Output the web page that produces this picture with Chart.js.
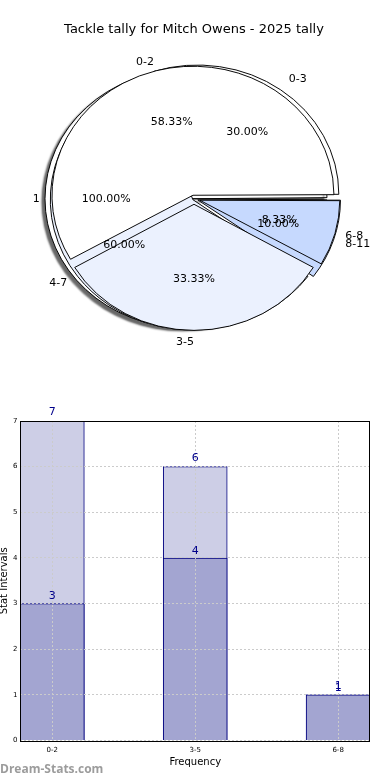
<!DOCTYPE html>
<html>
<head>
<meta charset="utf-8">
<script src="https://cdn.jsdelivr.net/npm/chart.js@4.4.1/dist/chart.umd.min.js"></script>
<style>
  html, body { margin: 0; padding: 0; background: #fff; }
  #wrap { position: relative; width: 390px; height: 780px; overflow: hidden; }
  #wrap canvas { position: absolute; left: 0; }
  .pie { top: 0; }
  #bars { top: 400px; }
</style>
</head>
<body>
<div id="wrap">
  <canvas id="pie3" class="pie" width="390" height="380"></canvas>
  <canvas id="pie2" class="pie" width="390" height="380"></canvas>
  <canvas id="pie1" class="pie" width="390" height="380"></canvas>
  <canvas id="bars" width="390" height="380"></canvas>
</div>
<script>
const TITLE = 'Tackle tally for Mitch Owens - 2025 tally';
const FONT = '"DejaVu Sans", sans-serif';

// top pie: three pies drawn over each other
const pie1Labels = ['0-2', '3-5', '6-8'];
const pie1Values = [7, 4, 1];
const pie2Labels = ['0-3', '4-7', '8-11'];
const pie2Values = [3, 6, 1];
const pie3Labels = ['1'];
const pie3Values = [1];

// bottom bars
const barLabels = ['0-2', '3-5', '6-8'];
const barBack = [7, 6, 1];
const barFront = [3, 4, 1];
const yTicks = [0, 1, 2, 3, 4, 5, 6, 7];

const pieColors = ['#ffffff', '#ebf1fe', '#c6d9fe'];
const SQUASH = 0.915;
const pies = [];

// pies are a bit flatter than round in the picture
const squash = {
  id: 'squash',
  beforeDatasetsDraw(chart) {
    const ctx = chart.ctx, a = chart.chartArea;
    const cx = (a.left + a.right) / 2, cy = (a.top + a.bottom) / 2;
    ctx.save();
    ctx.translate(cx, cy);
    ctx.scale(1, SQUASH);
    ctx.translate(-cx, -cy);
    if (chart.canvas.id === 'pie3') {
      ctx.shadowColor = 'rgba(0,0,0,0.6)';
      ctx.shadowOffsetX = -3;
      ctx.shadowOffsetY = 3;
      ctx.shadowBlur = 2;
    }
  },
  afterDatasetsDraw(chart) {
    chart.ctx.restore();
  }
};

// all slice texts go on the top canvas so no wedge hides them
const pieText = {
  id: 'pieText',
  afterDraw(chart) {
    const ctx = chart.ctx;
    const list = pies.includes(chart) ? pies : pies.concat(chart);
    ctx.save();
    ctx.font = '11px ' + FONT;
    ctx.fillStyle = '#000';
    ctx.textBaseline = 'middle';
    list.forEach(p => {
      const meta = p.getDatasetMeta(0);
      const vals = p.data.datasets[0].data;
      const total = vals.reduce((s, v) => s + v, 0);
      meta.data.forEach((arc, i) => {
        const half = (arc.startAngle + arc.endAngle) / 2;
        const off = (arc.options.offset || 0) / 4;
        const r = arc.outerRadius;
        const at = d => [arc.x + Math.cos(half) * (off + r * d),
                         arc.y + Math.sin(half) * (off + r * d) * SQUASH];
        let [x, y] = at(1.1);
        ctx.textAlign = Math.cos(half) > 1e-9 ? 'left' : 'right';
        ctx.fillText(p.data.labels[i], x, y);
        [x, y] = at(0.6);
        ctx.textAlign = 'center';
        ctx.fillText((vals[i] / total * 100).toFixed(2) + '%', x, y);
      });
    });
    ctx.restore();
  }
};

function makePie(id, labels, values, offsets, radius, titleColor, extra) {
  const chart = new Chart(document.getElementById(id), {
    type: 'pie',
    data: {
      // chart.js goes clockwise, the picture goes counter-clockwise from 3 o'clock
      labels: labels.slice().reverse(),
      datasets: [{
        data: values.slice().reverse(),
        backgroundColor: labels.map((l, i) => pieColors[i % 3]).reverse(),
        borderColor: '#000',
        borderWidth: 1,
        offset: offsets.slice().reverse(),
        radius: radius,
        rotation: 90,
        clip: false
      }]
    },
    options: {
      responsive: false,
      animation: false,
      events: [],
      layout: { padding: { right: 2, bottom: 20 } },
      plugins: {
        legend: { display: false },
        tooltip: { enabled: false },
        title: {
          display: true,
          text: TITLE,
          color: titleColor,
          font: { family: FONT, size: 13, weight: 'normal' },
          padding: { top: 22, bottom: 0 }
        }
      }
    },
    plugins: [squash].concat(extra || [])
  });
  pies.push(chart);
  return chart;
}

makePie('pie3', pie3Labels, pie3Values, [32], 133, '#000');
makePie('pie2', pie2Labels, pie2Values, [24, 6, 16], 141, 'rgba(0,0,0,0)');
makePie('pie1', pie1Labels, pie1Values, [16, 24, 24], 137, 'rgba(0,0,0,0)', [pieText]);

// ---- bar chart ----
const barText = {
  id: 'barText',
  afterDraw(chart) {
    const ctx = chart.ctx, a = chart.chartArea;
    ctx.save();
    // full box round the plot
    ctx.strokeStyle = '#000';
    ctx.lineWidth = 1;
    ctx.strokeRect(Math.round(a.left) + 0.5, Math.round(a.top) + 0.5,
                   Math.round(a.right - a.left) - 1, Math.round(a.bottom - a.top));
    ctx.font = '11px ' + FONT;
    ctx.fillStyle = '#00008b';
    ctx.textAlign = 'center';
    ctx.textBaseline = 'middle';
    chart.data.datasets.forEach((ds, di) => {
      chart.getDatasetMeta(di).data.forEach((bar, i) => {
        ctx.fillText(ds.data[i].y, bar.x, bar.y - (di === 0 ? 7 : 9));
      });
    });
    ctx.font = 'bold 12px "Open Sans", sans-serif';
    ctx.fillStyle = '#9c9c9c';
    ctx.textAlign = 'left';
    ctx.fillText('Dream-Stats.com', 0, 370);
    ctx.restore();
  }
};

const gridOpts = { color: '#cbcbcb', z: 1, drawTicks: false, offset: false };
const borderOpts = { display: false, dash: [2, 2] };

new Chart(document.getElementById('bars'), {
  type: 'bar',
  data: {
    datasets: [
      {
        data: barFront.map((v, i) => ({ x: i, y: v })),
        backgroundColor: '#a3a5d1',
        borderColor: '#00007f',
        borderWidth: 1,
        grouped: false,
        barThickness: 64
      },
      {
        data: barBack.map((v, i) => ({ x: i, y: v })),
        backgroundColor: '#cdcee6',
        borderColor: '#00007f',
        borderWidth: 1,
        grouped: false,
        barThickness: 64
      }
    ]
  },
  options: {
    responsive: false,
    animation: false,
    events: [],
    layout: { padding: { top: 21, left: -2, right: 20, bottom: 12 } },
    plugins: { legend: { display: false }, tooltip: { enabled: false } },
    scales: {
      x: {
        type: 'linear',
        offset: false,
        min: -0.223,
        max: 2.223,
        afterBuildTicks: ax => { ax.ticks = barLabels.map((l, i) => ({ value: i })); },
        ticks: { callback: v => barLabels[v], font: { family: FONT, size: 7 }, color: '#000', padding: 5, maxRotation: 0 },
        grid: gridOpts,
        border: borderOpts,
        title: { display: true, text: 'Frequency', color: '#000', font: { family: FONT, size: 10 }, padding: { top: -3, bottom: 0 } }
      },
      y: {
        min: 0,
        max: 7,
        afterBuildTicks: ax => { ax.ticks = yTicks.map(v => ({ value: v })); },
        ticks: { font: { family: FONT, size: 7 }, color: '#000', padding: 3 },
        grid: gridOpts,
        border: borderOpts,
        title: { display: true, text: 'Stat Intervals', color: '#000', font: { family: FONT, size: 10 }, padding: 0 }
      }
    }
  },
  plugins: [barText]
});
</script>
</body>
</html>
